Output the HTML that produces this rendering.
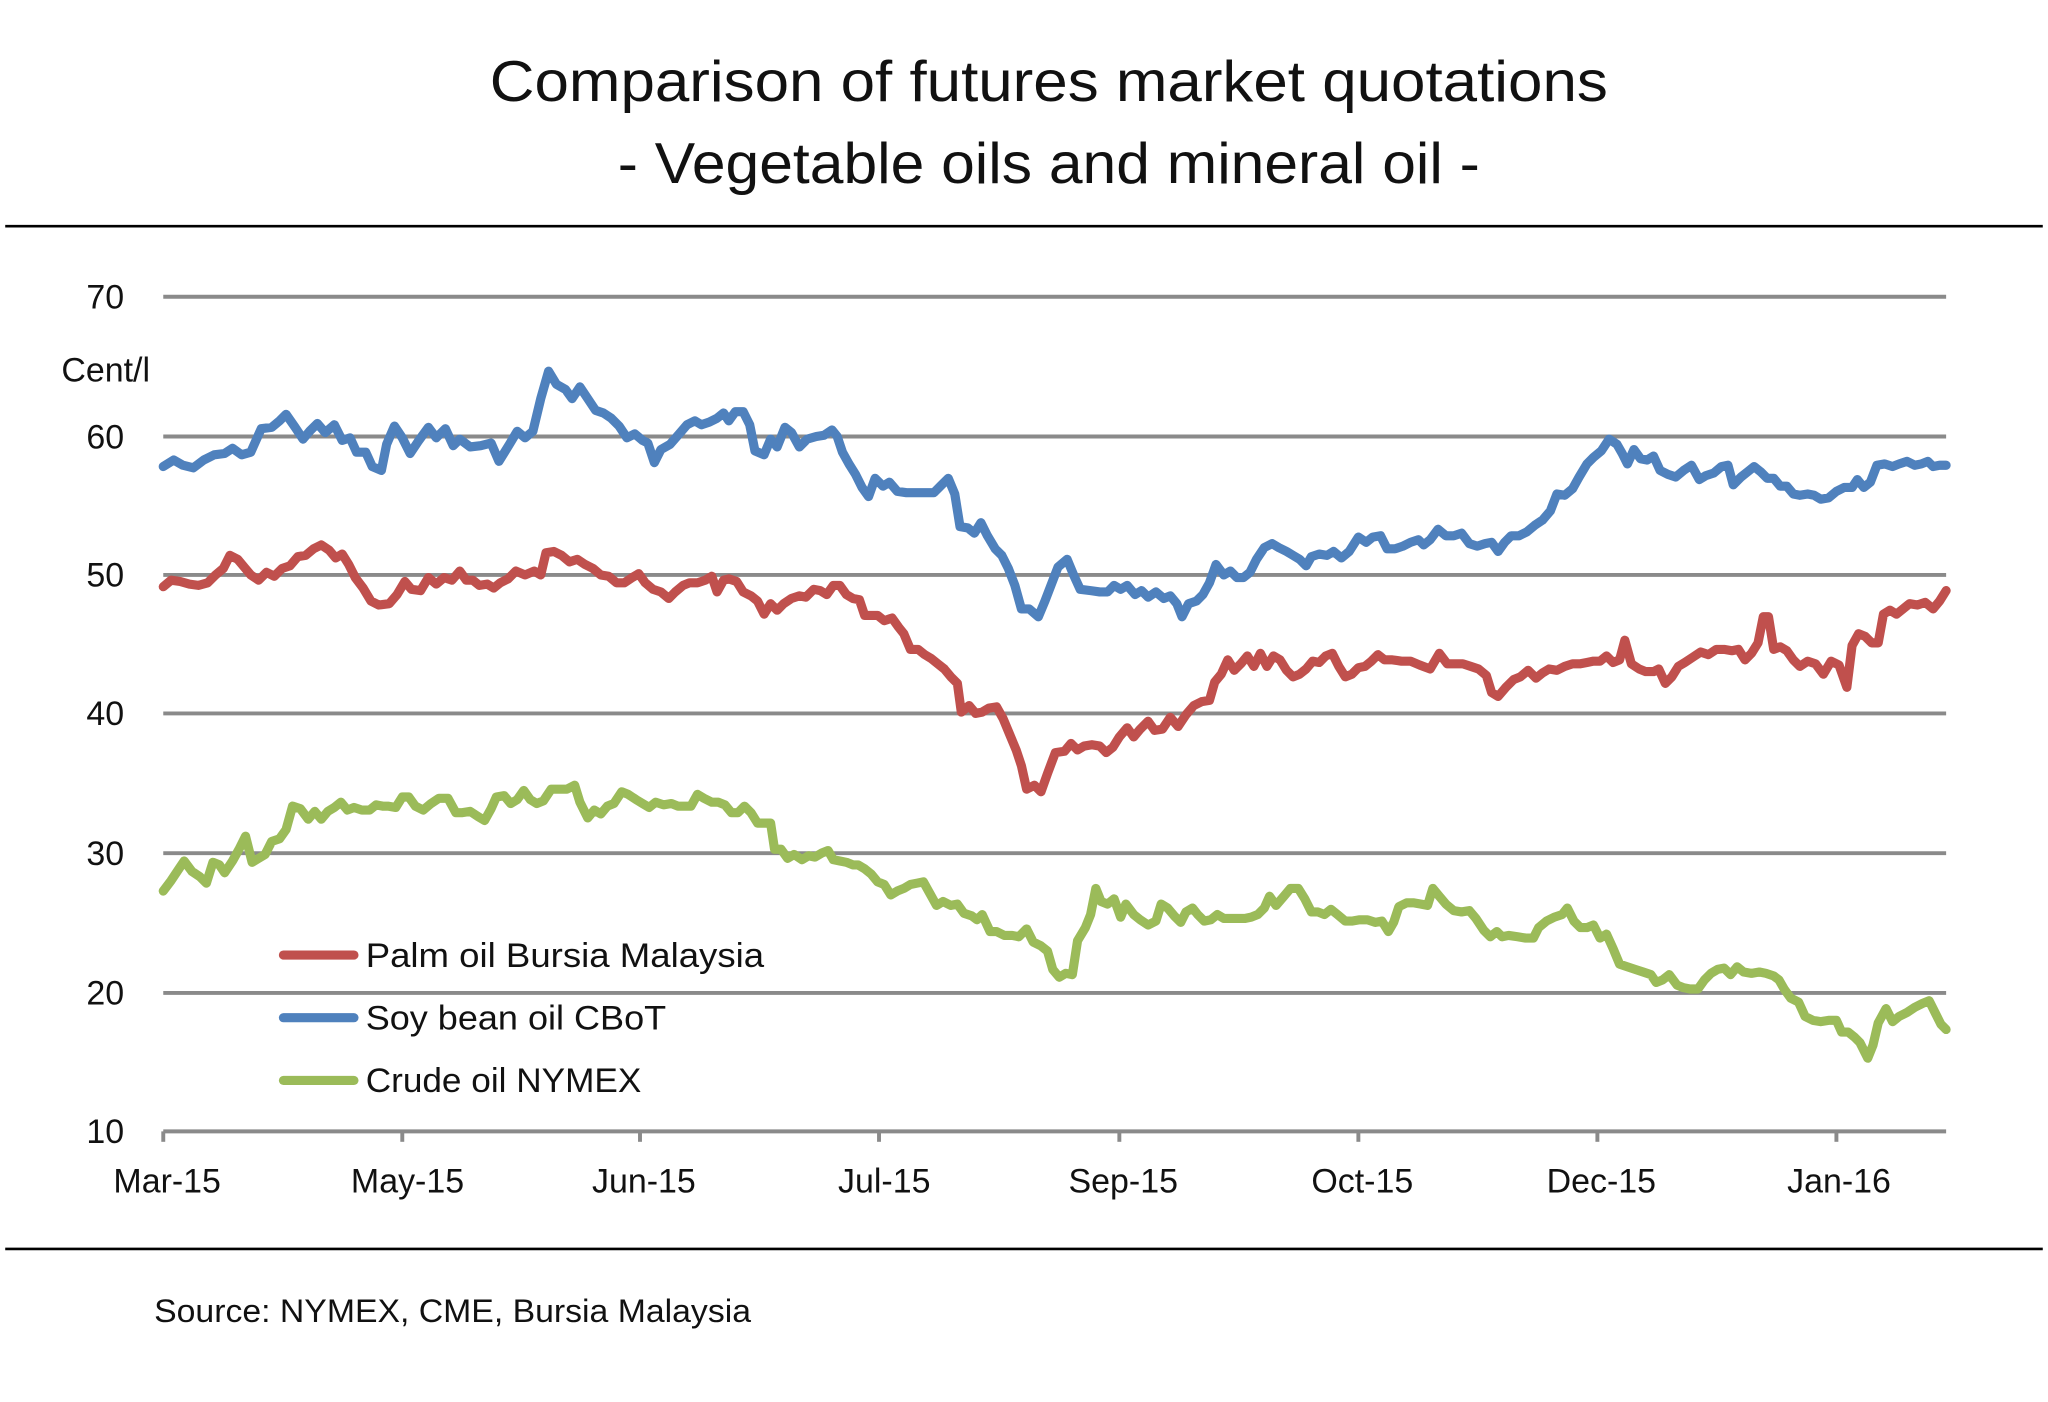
<!DOCTYPE html>
<html><head><meta charset="utf-8"><style>
html,body{margin:0;padding:0;background:#fff;}
svg{display:block;}
text{font-family:"Liberation Sans",sans-serif;fill:#111;}
</style></head><body>
<svg width="2048" height="1402" viewBox="0 0 1568 1073" xmlns="http://www.w3.org/2000/svg">
<rect width="1568" height="1073" fill="#fff"/>
<text x="375" y="77" font-size="44" textLength="856" lengthAdjust="spacingAndGlyphs">Comparison of futures market quotations</text>
<text x="473" y="140" font-size="44" textLength="660" lengthAdjust="spacingAndGlyphs">- Vegetable oils and mineral oil -</text>
<line x1="4" y1="173" x2="1564" y2="173" stroke="#000" stroke-width="2"/>
<line x1="4" y1="956" x2="1564" y2="956" stroke="#000" stroke-width="2"/>
<g stroke="#8a8a8a" stroke-width="3">
<line x1="125" y1="227" x2="1490" y2="227"/>
<line x1="125" y1="334" x2="1490" y2="334"/>
<line x1="125" y1="440" x2="1490" y2="440"/>
<line x1="125" y1="546" x2="1490" y2="546"/>
<line x1="125" y1="653" x2="1490" y2="653"/>
<line x1="125" y1="760" x2="1490" y2="760"/>
<line x1="125" y1="866" x2="1490" y2="866"/>
<line x1="125" y1="866" x2="125" y2="874"/>
<line x1="308" y1="866" x2="308" y2="874"/>
<line x1="490" y1="866" x2="490" y2="874"/>
<line x1="673" y1="866" x2="673" y2="874"/>
<line x1="857" y1="866" x2="857" y2="874"/>
<line x1="1040" y1="866" x2="1040" y2="874"/>
<line x1="1223" y1="866" x2="1223" y2="874"/>
<line x1="1406" y1="866" x2="1406" y2="874"/>
</g>
<g font-size="26" text-anchor="end">
<text x="95" y="236">70</text>
<text x="95" y="343">60</text>
<text x="95" y="449">50</text>
<text x="95" y="555">40</text>
<text x="95" y="662">30</text>
<text x="95" y="769">20</text>
<text x="95" y="875">10</text>
</g>
<text x="47" y="292" font-size="26">Cent/l</text>
<g font-size="26" text-anchor="middle">
<text x="128" y="913">Mar-15</text>
<text x="312" y="913">May-15</text>
<text x="493" y="913">Jun-15</text>
<text x="677" y="913">Jul-15</text>
<text x="860" y="913">Sep-15</text>
<text x="1043" y="913">Oct-15</text>
<text x="1226" y="913">Dec-15</text>
<text x="1408" y="913">Jan-16</text>
</g>
<g fill="none" stroke-width="7" stroke-linejoin="round" stroke-linecap="round">
<polyline stroke="#4f81bd" points="125,357 133,352 140,356 148,358 156,352 164,348 172,347 178,343 185,348 192,346 200,328 208,327 214,322 219,317 226,327 232,336 237,330 243,324 249,331 256,325 262,337 268,335 273,346 280,346 285,357 292,360 296,340 302,326 308,335 314,347 320,338 328,327 334,335 341,328 347,341 352,336 360,342 368,341 376,339 382,353 390,340 396,330 402,335 408,330 414,305 420,284 426,294 433,298 438,305 444,296 450,305 456,314 462,316 468,320 474,326 480,335 486,332 492,337 496,339 501,354 506,344 513,340 520,332 526,325 532,322 537,325 543,323 549,320 554,316 558,322 563,315 569,315 574,325 578,345 585,348 590,336 595,342 601,327 606,331 612,342 618,336 625,334 631,333 637,329 641,334 645,346 650,355 655,363 660,373 665,380 670,366 676,372 681,369 687,376 694,377 700,377 708,377 715,377 720,372 726,366 731,378 735,403 741,404 746,408 751,400 756,410 762,420 767,425 772,435 777,448 782,466 788,466 795,472 800,460 805,447 810,434 817,428 822,440 827,451 835,452 842,453 848,453 853,448 858,451 863,448 869,455 874,452 879,457 885,453 891,458 896,456 901,462 905,472 910,462 916,460 921,455 926,446 931,432 937,440 942,437 947,442 952,442 957,438 962,428 968,419 974,416 979,419 985,422 990,425 995,428 1000,433 1004,426 1010,424 1016,425 1021,422 1027,427 1033,422 1040,411 1046,415 1051,411 1057,410 1062,420 1068,420 1074,418 1080,415 1086,413 1090,417 1095,413 1101,405 1107,410 1113,410 1119,408 1125,416 1131,418 1137,416 1142,415 1147,422 1152,415 1157,410 1163,410 1169,407 1175,402 1181,398 1187,391 1192,378 1198,379 1204,374 1209,365 1215,355 1220,350 1226,345 1232,336 1238,340 1242,347 1246,355 1251,344 1256,351 1261,352 1266,349 1271,360 1277,363 1283,365 1289,360 1295,356 1301,367 1306,364 1312,362 1318,357 1323,356 1327,371 1333,365 1338,361 1343,357 1348,361 1353,366 1358,366 1363,372 1368,372 1373,378 1378,379 1384,378 1389,379 1394,382 1400,381 1406,376 1412,373 1418,373 1422,367 1427,373 1432,369 1437,356 1443,355 1449,357 1454,355 1460,353 1466,356 1471,355 1476,353 1480,357 1485,356 1490,356"/>
<polyline stroke="#c0504d" points="125,449 131,444 138,445 145,447 152,448 159,446 165,440 171,435 176,425 182,428 187,434 192,440 198,444 204,438 210,441 216,435 222,433 228,426 234,425 240,420 246,417 252,421 257,427 262,424 267,432 272,442 278,450 284,460 290,463 298,462 304,455 310,445 315,451 322,452 328,442 334,447 340,442 346,444 352,437 357,444 362,444 367,448 373,447 378,450 383,446 389,443 395,437 402,440 409,437 414,440 418,423 424,422 430,425 436,430 442,428 448,432 454,435 460,440 466,441 472,446 478,446 484,442 489,439 494,446 500,451 506,453 512,458 517,453 523,448 528,446 534,446 540,444 545,441 549,453 554,444 558,443 564,445 569,453 575,456 580,460 585,470 590,462 595,467 600,462 606,458 612,456 617,457 623,451 628,452 633,455 638,448 643,448 648,455 653,458 658,459 662,471 667,471 672,471 677,475 683,473 688,480 692,485 697,497 703,497 708,501 713,504 718,508 723,512 728,518 733,523 736,545 742,540 747,546 752,545 757,542 763,541 768,550 773,562 778,574 782,586 786,604 792,601 797,606 802,592 808,576 815,575 820,569 825,574 830,571 836,570 842,571 847,576 852,572 857,564 863,557 868,564 873,558 879,552 884,559 890,558 896,549 902,556 908,547 914,540 920,537 926,536 930,522 935,516 940,505 945,513 950,508 955,502 960,510 965,500 970,510 975,502 980,505 985,513 990,518 995,516 1000,512 1005,506 1010,507 1015,502 1020,500 1025,510 1030,518 1035,516 1040,511 1045,510 1050,506 1055,501 1060,505 1066,505 1073,506 1080,506 1087,509 1095,512 1102,500 1108,508 1114,508 1120,508 1126,510 1132,512 1138,517 1142,530 1147,533 1153,526 1159,520 1164,518 1170,513 1176,519 1181,515 1186,512 1192,513 1198,510 1204,508 1210,508 1215,507 1220,506 1225,506 1230,502 1235,507 1240,505 1244,490 1249,508 1255,512 1260,514 1266,514 1270,512 1275,523 1280,518 1285,510 1290,507 1296,503 1302,499 1308,501 1314,497 1320,497 1326,498 1331,497 1336,505 1341,500 1346,492 1350,472 1354,472 1358,497 1363,495 1368,498 1373,505 1378,510 1384,506 1390,508 1396,516 1402,506 1408,509 1414,526 1418,494 1423,485 1428,487 1433,492 1438,492 1442,470 1447,467 1452,470 1457,466 1462,462 1468,463 1474,461 1480,466 1485,460 1490,452"/>
<polyline stroke="#9bbb59" points="125,682 131,674 137,665 141,659 147,667 153,671 158,676 163,660 168,662 172,668 178,659 183,650 188,640 193,660 198,657 203,654 208,644 214,642 219,635 224,617 230,619 236,627 241,621 246,627 251,621 256,618 261,614 266,620 271,618 277,620 283,620 288,616 293,617 297,617 303,618 308,610 313,610 318,617 324,620 330,615 336,611 343,611 349,622 354,622 360,621 366,625 371,628 376,619 380,610 386,609 391,615 396,612 401,605 406,612 411,615 416,613 422,604 428,604 434,604 440,601 444,614 450,626 455,620 460,623 465,617 470,615 476,606 481,608 487,612 492,615 497,618 502,614 508,616 514,615 519,617 524,617 529,617 534,608 539,611 545,614 550,614 555,616 560,622 565,622 570,617 575,622 580,630 585,630 590,630 593,650 598,650 603,657 608,654 614,658 619,655 624,656 629,653 634,651 638,658 643,659 648,660 653,662 657,662 662,665 667,669 672,675 677,677 682,685 687,682 692,680 697,677 702,676 707,675 712,684 717,693 722,690 728,693 733,692 738,699 744,701 748,704 752,700 758,713 763,713 769,716 775,716 780,717 786,711 791,721 797,724 802,728 806,742 811,748 816,745 821,746 825,720 831,710 835,700 839,680 843,690 848,692 853,688 858,702 862,692 868,700 873,704 879,708 885,705 889,692 894,695 899,701 904,706 908,698 913,695 917,700 922,705 927,704 932,700 937,703 942,703 948,703 953,703 958,702 963,700 968,695 972,686 977,693 983,686 988,680 994,680 999,688 1004,698 1009,698 1014,700 1019,696 1024,700 1030,705 1035,705 1041,704 1047,704 1053,706 1058,705 1063,713 1067,706 1071,694 1077,691 1082,691 1088,692 1093,693 1097,680 1102,686 1107,692 1113,697 1119,698 1125,697 1130,703 1136,712 1141,717 1146,713 1150,717 1155,716 1162,717 1168,718 1174,718 1178,710 1184,705 1190,702 1196,700 1200,695 1205,705 1210,710 1215,710 1220,708 1225,718 1230,715 1235,726 1240,738 1246,740 1252,742 1258,744 1264,746 1268,752 1273,750 1278,746 1284,754 1289,756 1294,757 1300,757 1305,750 1310,745 1315,742 1320,741 1325,746 1330,740 1335,744 1341,745 1347,744 1352,745 1358,747 1362,750 1366,757 1371,764 1377,767 1382,778 1388,781 1394,782 1400,781 1406,781 1410,790 1415,790 1420,794 1424,798 1430,810 1434,800 1438,783 1444,772 1449,782 1454,778 1460,775 1466,771 1472,768 1477,766 1482,776 1486,784 1490,788"/>
<line x1="217" y1="731" x2="271" y2="731" stroke="#c0504d"/>
<line x1="217" y1="779" x2="271" y2="779" stroke="#4f81bd"/>
<line x1="217" y1="827" x2="271" y2="827" stroke="#9bbb59"/>
</g>
<g font-size="26">
<text x="280" y="740" textLength="305" lengthAdjust="spacingAndGlyphs">Palm oil Bursia  Malaysia</text>
<text x="280" y="788" textLength="230" lengthAdjust="spacingAndGlyphs">Soy bean oil CBoT</text>
<text x="280" y="836" textLength="211" lengthAdjust="spacingAndGlyphs">Crude oil NYMEX</text>
</g>
<text x="118" y="1012" font-size="25" textLength="457" lengthAdjust="spacingAndGlyphs">Source: NYMEX, CME, Bursia Malaysia</text>
</svg>
</body></html>
